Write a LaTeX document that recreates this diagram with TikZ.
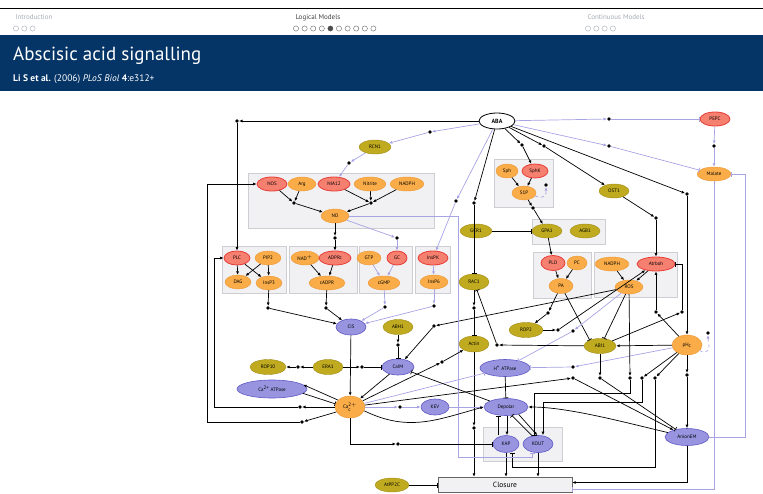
\documentclass[tikz,border=0pt]{standalone}
\usepackage{fontspec}
\setmainfont{PT Sans}
\usetikzlibrary{shapes.geometric,arrows.meta,positioning}

\definecolor{ornF}{RGB}{249,172,72}
\definecolor{ornD}{RGB}{236,150,50}
\definecolor{redF}{RGB}{246,128,112}
\definecolor{redD}{RGB}{232,60,55}
\definecolor{oliF}{RGB}{192,170,32}
\definecolor{oliD}{RGB}{160,140,20}
\definecolor{lavF}{RGB}{152,148,224}
\definecolor{lavD}{RGB}{95,88,196}
\definecolor{lavL}{RGB}{168,164,228}
\definecolor{grpF}{RGB}{241,241,243}
\definecolor{grpD}{RGB}{205,205,210}
\definecolor{navy}{RGB}{5,52,102}
\definecolor{navoff}{RGB}{165,170,180}

\begin{document}
\begin{tikzpicture}[x=1pt,y=-1pt]
	\tikzset{%
		sp/.style={ellipse,draw,inner sep=0pt,minimum width=28pt,minimum height=14pt,font=\fontsize{5}{5}\selectfont},
		orn/.style={sp,fill=ornF,draw=ornD},
		redn/.style={sp,fill=redF,draw=redD,line width=0.8pt},
		oli/.style={sp,fill=oliF,draw=oliD},
		lav/.style={sp,fill=lavF,draw=lavD,line width=0.6pt},
		jn/.style={circle,fill=black,inner sep=0pt,minimum size=3.6pt},
		grp/.style={fill=grpF,draw=grpD,line width=0.5pt},
		act/.style={-{Latex[length=3.5pt,width=3pt]},line width=0.7pt},
		inh/.style={-{Bar[width=5pt]},line width=0.7pt},
		lv/.style={draw=lavL},
	}
	\useasboundingbox (0,0) rectangle (763,493);

	% frame header
	\draw[line width=0.9pt] (0,8) -- (763,8);
	\node[anchor=base west,text=navoff,font=\fontsize{7}{7}\selectfont] at (12,19) {Introduction};
	\node[anchor=base west,text=black!75,font=\fontsize{7}{7}\selectfont] at (292,19) {Logical Models};
	\node[anchor=base west,text=navoff,font=\fontsize{7}{7}\selectfont] at (584,19) {Continuous Models};
	\foreach \i in {0,1,2} \draw[navoff,line width=0.4pt] (16+8.3*\i,28.5) circle (2.6);
	\foreach \i in {0,...,9} \draw[black!60,line width=0.4pt] (296+8.6*\i,28.5) circle (2.6);
	\fill[black!70] (296+8.6*4,28.5) circle (2.6);
	\foreach \i in {0,...,3} \draw[navoff,line width=0.4pt] (588+8.3*\i,28.5) circle (2.6);
	\fill[navy] (0,35) rectangle (763,91);
	\node[anchor=base west,text=white,font=\fontsize{19}{19}\selectfont,inner sep=0pt] at (13,60) {Abscisic acid signalling};
	\node[anchor=base west,text=white,font=\fontsize{9.5}{10}\selectfont,inner sep=0pt] at (13,81) {\textbf{Li S et al.} (2006) \textit{PLoS Biol} \textbf{4}:e312+};

	% groups
	\foreach \xa/\ya/\xb/\yb in {248/173/434/228, 494/159/553/207, 532/219/605/244, 533/252/591/298,
		594/252/677/297, 222/246/286/293, 289/246/357/293, 359/246/412/293, 415/246/450/293, 483/427/562/461}
		\draw[grp] (\xa,\ya) rectangle (\xb,\yb);

	% nodes
	\node[sp,fill=white,draw=black,line width=0.8pt,minimum width=36pt,minimum height=16pt,font=\fontsize{6}{6}\selectfont\bfseries] (ABA) at (497,121) {ABA};
	\node[oli,minimum width=32pt] (RCN1) at (375,147) {RCN1};
	\node[redn,minimum width=30pt] (PEPC) at (715,119) {PEPC};
	\node[orn,minimum width=34pt] (Malate) at (714,174) {Malate};
	\node[oli,minimum width=30pt] (OST1) at (614,191) {OST1};

	\node[redn,minimum width=30pt] (NOS) at (272,184) {NOS};
	\node[orn] (Arg) at (302,184) {Arg};
	\node[redn,minimum width=32pt] (NIA12) at (334,184) {NIA12};
	\node[orn,minimum width=32pt] (Nitrite) at (370,184) {Nitrite};
	\node[orn,minimum width=34pt] (NADPH) at (407,184) {NADPH};
	\node[orn] (NO) at (335,216) {NO};

	\node[orn,minimum width=22pt] (Sph) at (507,171) {Sph};
	\node[redn,minimum width=26pt] (SphK) at (535,171) {SphK};
	\node[orn,minimum width=24pt] (S1P) at (524,193) {S1P};

	\node[oli,minimum width=32pt] (GCR1) at (476,231) {GCR1};
	\node[oli,minimum width=30pt] (GPA1) at (547,231) {GPA1};
	\node[oli,minimum width=30pt] (AGB1) at (585,231) {AGB1};

	\node[redn,minimum width=24pt,minimum height=15pt] (PLD) at (553,263) {PLD};
	\node[orn,minimum width=20pt] (PC) at (577,263) {PC};
	\node[orn,minimum width=24pt,minimum height=15pt] (PA) at (561,286) {PA};

	\node[orn,minimum width=34pt] (NADPHb) at (612,264) {NADPH};
	\node[redn,minimum width=38pt] (Atrboh) at (656,264) {Atrboh};
	\node[orn] (ROS) at (629,287) {ROS};

	\node[redn,minimum width=26pt] (PLC) at (237,258) {PLC};
	\node[orn,minimum width=26pt] (PIP2) at (268,258) {PIP2};
	\node[orn,minimum width=26pt] (DAG) at (238,282) {DAG};
	\node[orn,minimum width=26pt] (InsP3) at (269,283) {InsP3};
	\node[orn] (NAD) at (305,258) {NAD$^{+}$};
	\node[redn,minimum width=32pt] (ADPRc) at (335,258) {ADPRc};
	\node[orn,minimum width=36pt] (cADPR) at (327,283) {cADPR};
	\node[orn,minimum width=24pt] (GTP) at (369,258) {GTP};
	\node[redn,minimum width=20pt] (GC) at (397,258) {GC};
	\node[orn,minimum width=32pt] (cGMP) at (384,283) {cGMP};
	\node[redn,minimum width=30pt] (InsPK) at (433,258) {InsPK};
	\node[orn] (InsP6) at (434,282) {InsP6};

	\node[lav,minimum width=30pt,minimum height=16pt] (CIS) at (351,327) {CIS};
	\node[oli,minimum width=30pt,minimum height=15pt] (ABH1) at (398,327) {ABH1};
	\node[oli,minimum width=30pt,minimum height=16pt] (RAC1) at (474,282) {RAC1};
	\node[oli,minimum width=30pt,minimum height=16pt] (Actin) at (474,344) {Actin};
	\node[oli,minimum width=34pt,minimum height=15pt] (ROP2) at (526,330) {ROP2};
	\node[oli,minimum width=32pt,minimum height=15pt] (ABI1) at (600,346) {ABI1};
	\node[orn,minimum width=30pt,minimum height=20pt] (pHc) at (687,345) {pH$_{\mathrm{c}}$};
	\node[oli,minimum width=36pt,minimum height=15pt] (ROP10) at (268,367) {ROP10};
	\node[oli,minimum width=30pt,minimum height=15pt] (ERA1) at (328,367) {ERA1};
	\node[lav,minimum width=32pt,minimum height=16pt] (CaIM) at (398,367) {CaIM};
	\node[lav,minimum width=50pt,minimum height=17pt] (HATP) at (505,368) {H\textsuperscript{+} ATPase};
	\node[lav,minimum width=70pt,minimum height=18pt] (CaATP) at (272,389) {Ca\textsuperscript{2+} ATPase};
	\node[orn,minimum width=30pt,minimum height=22pt] (Ca) at (350,407) {Ca$^{\mathrm{2+}}_{\mathrm{c}}$};
	\node[lav,minimum width=28pt,minimum height=16pt] (KEV) at (435,407) {KEV};
	\node[lav,minimum width=44pt,minimum height=17pt] (Depolar) at (506,407) {Depolar};
	\node[lav,minimum width=26pt,minimum height=17pt] (KAP) at (506,444) {KAP};
	\node[lav,minimum width=30pt,minimum height=17pt] (KOUT) at (538,444) {KOUT};
	\node[lav,minimum width=44pt,minimum height=17pt] (AnionEM) at (687,437) {AnionEM};
	\node[oli,minimum width=34pt,minimum height=14pt] (AtPP2C) at (392,485) {AtPP2C};
	\node[draw=black!60,fill=grpF,minimum width=134pt,minimum height=15pt,inner sep=0pt,font=\fontsize{7.5}{8}\selectfont] (Closure) at (505,484.5) {Closure};

	% ABA inputs
	\node[jn] (jPLC) at (237,121) {};
	\draw[act] (ABA) -- (jPLC); \draw[act] (jPLC) -- (PLC);
	\node[jn] (jRCN) at (430,132) {};
	\draw[lv,act] (ABA) -- (jRCN); \draw[lv,act] (jRCN) -- (RCN1);
	\node[jn] (jNIA) at (349,163) {};
	\draw[lv,act] (RCN1) -- (jNIA); \draw[lv,act] (jNIA) -- (NIA12);
	\node[jn] (jIPK) at (456,201) {};
	\draw[lv,act] (ABA) -- (jIPK); \draw[lv,act] (jIPK) -- (InsPK);
	\node[jn] (jRAC) at (474,203) {};
	\draw[act] (ABA) -- (jRAC); \draw[inh] (jRAC) -- (RAC1);
	\node[jn] (jSK) at (522,145) {};
	\draw[act] (ABA) -- (jSK); \draw[act] (jSK) -- (SphK);
	\node[jn] (jOST) at (544,146) {};
	\draw[act] (ABA) -- (jOST); \draw[act] (jOST) -- (OST1);
	\node[jn] (jpH) at (687,194) {};
	\draw[act] (ABA) -- (jpH); \draw[act] (jpH) -- (pHc);
	\node[jn] (jPEP) at (609,119) {};
	\draw[lv,act] (ABA) -- (jPEP); \draw[lv,inh] (jPEP) -- (PEPC);
	\node[jn] (jMal) at (609,146) {};
	\draw[lv,act] (ABA) -- (jMal); \draw[lv,inh] (jMal) -- (Malate);
	\node[jn] (jMal2) at (714,146) {};
	\draw[lv,act] (PEPC) -- (jMal2); \draw[lv,act] (jMal2) -- (Malate);
	\node[jn] (jAtr) at (656,218) {};
	\draw[act] (OST1) -- (jAtr); \draw[act] (jAtr) -- (Atrboh);

	% S1P, G protein, PLD
	\draw[act] (Sph) -- (S1P); \draw[act] (SphK) -- (S1P);
	\node[jn] (jS1P) at (546,185) {};
	\draw[lv,act,dashed] (S1P.-15) .. controls +(12,4) and +(0,8) .. (jS1P);
	\node[jn] (jGPA) at (533,208) {};
	\draw[act] (S1P) -- (jGPA); \draw[act] (jGPA) -- (GPA1);
	\draw[inh] (GCR1) -- (GPA1);
	\draw[act] (GPA1) -- (PLD);
	\draw[act] (PLD) -- (PA); \draw[act] (PC) -- (PA);
	\draw[act] (NADPHb) -- (ROS); \draw[act] (Atrboh) -- (ROS);
	\node[jn] (jROP) at (548,313) {};
	\draw[act] (PA) -- (jROP); \draw[act] (jROP) -- (ROP2);
	\node[jn] (jRA) at (558,330) {};
	\draw[act] (ROP2) -- (jRA); \draw[act] (jRA) -- (Atrboh.-150);
	\draw[inh] (PA) -- (ABI1.150);
	\draw[inh] (ROS) -- (ABI1.60);

	% ROS, pHc, ABI1
	\node[jn] (jCaM) at (434,326) {};
	\draw[act] (ROS) -- (jCaM); \draw[act] (jCaM) -- (CaIM);
	\node[jn] (jHR) at (573,331) {};
	\draw[lv,act] (ROS) -- (jHR); \draw[lv,inh] (jHR) -- (HATP);
	\node[jn] (jHp) at (573,367) {};
	\draw[lv,act] (pHc) -- (jHp); \draw[lv,inh] (jHp) -- (HATP);
	\draw[act] (pHc) -- (ABI1);
	\node[jn] (jpA) at (656,312) {};
	\draw[act] (pHc) -- (jpA); \draw[act] (jpA) -- (Atrboh);
	\node[jn] (jAA) at (682,312) {};
	\draw[act] (ABI1) -- (jAA); \draw[inh] (jAA) |- (Atrboh.east);
	\node[jn] (jpS) at (708,333) {};
	\draw[lv,act,dashed] (pHc.-25) .. controls +(14,4) and +(0,10) .. (jpS);
	\node[jn] (jRA2) at (497,345) {};
	\draw[act] (ABI1) -- (jRA2); \draw[inh] (jRA2) -- (RAC1);
	\node[jn] (jAE) at (600,378) {};
	\draw[act] (ABI1) -- (jAE); \draw[inh] (jAE) -- (AnionEM);
	\node[jn] (jpE) at (687,375) {};
	\draw[act] (pHc) -- (jpE); \draw[act] (jpE) -- (AnionEM);
	\node[jn] (jRK) at (630,378) {};
	\draw[act] (ROS) -- (jRK); \draw[inh] (jRK) -- ++(0,15) -| ([xshift=-4pt]KOUT.north);
	\node[jn] (jpK) at (642,378) {};
	\draw[act] (pHc) -- (jpK); \draw[act] (jpK) -- ++(0,24) -| ([xshift=5pt]KOUT.north);
	\node[jn] (jpKA) at (655,378) {};
	\draw[act] (pHc) -- (jpKA); \draw[inh] (jpKA) -- ++(0,89) -| ([xshift=6pt]KAP.south);

	% closure
	\draw[act] (AnionEM.south) |- ([yshift=2pt]Closure.east);
	\draw[lv,inh] (Malate.south) |- ([yshift=-5pt]Closure.east);
	\draw[lv,inh] (AnionEM.east) -- ++(36,0) |- (Malate.east);
	\draw[act] (AnionEM) .. controls +(-60,-14) and +(40,0) .. (Depolar.east);
	\node[jn] (jCE) at (573,378) {};
	\draw[act] (Ca) -- (jCE); \draw[act] (jCE) -- (AnionEM);
	\draw[act] ([xshift=1pt]Depolar.south) -- ([xshift=1pt]KAP.north);
	\draw[inh] ([xshift=-8pt]KAP.north) -- ([xshift=-8pt]Depolar.south);
	\draw[inh] (KOUT.125) -- (Depolar.-55);
	\draw[act] (Depolar.-30) -- (KOUT.95);
	\draw[act] (KAP) -- (KAP |- Closure.north);
	\draw[act] (KOUT) -- (KOUT |- Closure.north);
	\node[jn] (jCl) at (474,428) {};
	\draw[act] (Actin) -- (jCl); \draw[act] (jCl) -- (jCl |- Closure.north);
	\draw[inh] (AtPP2C) -- (Closure.west |- AtPP2C);
	\draw[inh] (HATP) -- (Depolar);
	\draw[lv,act] (KEV) -- (Depolar);
	\draw[lv,inh] (NO.east) -| ++(109,241) -| ([xshift=-6pt]KOUT.south);

	% calcium
	\node[jn] (jKEV) at (400,407) {};
	\draw[lv,act] (Ca) -- (jKEV); \draw[lv,act] (jKEV) -- (KEV);
	\draw[act] (Ca.-15) .. controls +(45,22) and +(-45,12) .. (Depolar.west);
	\draw[lv,inh] (Ca) -- (HATP);
	\node[jn] (jAct) at (442,362) {};
	\draw[act] (Ca) -- (jAct); \draw[act] (jAct) -- (Actin);
	\node[jn] (jKAP) at (398,444) {};
	\draw[act] (Ca) |- (jKAP); \draw[inh] (jKAP) -- (KAP);
	\draw[inh] (Depolar) -- (CaIM);
	\draw[act] (CaIM) -- (Ca);
	\draw[act] (CIS) -- (Ca);
	\node[jn] (jABH) at (398,345) {};
	\draw[act] (ABH1) -- (jABH); \draw[inh] (jABH) -- (CaIM);
	\node[jn] (jERC) at (362,367) {};
	\draw[act] (ERA1) -- (jERC); \draw[inh] (jERC) -- (CaIM);
	\node[jn] (jROP10) at (298,367) {};
	\draw[act] (ERA1) -- (jROP10); \draw[act] (jROP10) -- (ROP10);
	\draw[act] (Ca.150) -- (CaATP.8);
	\draw[inh] (CaATP.-8) -- (Ca.168);
	\node[jn] (jCP) at (300,407) {};
	\draw[act] (Ca) -- (jCP); \draw[act] (jCP) -- ++(-86,0) |- (PLC);
	\node[jn] (jCN) at (302,422) {};
	\draw[act] (Ca.-160) -- (jCN); \draw[act] (jCN) -- ++(-95,0) |- (NOS);

	% NO and second messengers
	\node[jn] (jNO1) at (294,203) {};
	\node[jn] (jNO2) at (371,203) {};
	\draw[act] (NOS) -- (jNO1); \draw[act] (Arg) -- (jNO1); \draw[act] (jNO1) -- (NO);
	\draw[act] (NIA12) -- (jNO2); \draw[act] (Nitrite) -- (jNO2); \draw[act] (NADPH) -- (jNO2); \draw[act] (jNO2) -- (NO);
	\node[jn] (jADP) at (335,238) {};
	\draw[act] (NO) -- (jADP); \draw[act] (jADP) -- (ADPRc);
	\node[jn] (jGC) at (397,238) {};
	\draw[lv,act] (NO) -- (jGC); \draw[lv,act] (jGC) -- (GC);
	\draw[act] (PLC) -- (DAG); \draw[act] (PLC) -- (InsP3);
	\draw[act] (PIP2) -- (DAG); \draw[act] (PIP2) -- (InsP3);
	\draw[act] (NAD) -- (cADPR); \draw[act] (ADPRc) -- (cADPR);
	\draw[lv,act] (GTP) -- (cGMP); \draw[lv,act] (GC) -- (cGMP);
	\draw[lv,act] (InsPK) -- (InsP6);
	\node[jn] (jIP3) at (268,308) {};
	\draw[act] (InsP3) -- (jIP3); \draw[act] (jIP3) -- (CIS);
	\node[jn] (jcAD) at (326,308) {};
	\draw[act] (cADPR) -- (jcAD); \draw[act] (jcAD) -- (CIS);
	\node[jn] (jcGM) at (385,307) {};
	\draw[lv,act] (cGMP) -- (jcGM); \draw[lv,act] (jcGM) -- (CIS);
	\node[jn] (jIP6) at (434,306) {};
	\draw[lv,act] (InsP6) -- (jIP6); \draw[lv,act] (jIP6) -- (CIS);
	\node[jn] (jAct2) at (474,308) {};
	\draw[act] (RAC1) -- (jAct2); \draw[inh] (jAct2) -- (Actin);
\end{tikzpicture}
\end{document}
